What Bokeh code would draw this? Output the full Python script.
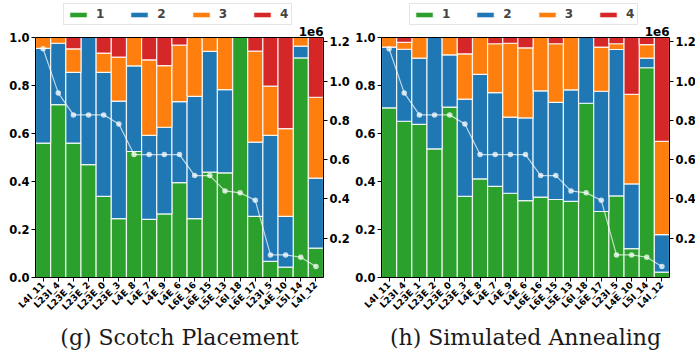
from bokeh.plotting import figure
from bokeh.layouts import row
from bokeh.models import (FactorRange, Range1d, LinearAxis, FixedTicker, CustomJSTickFormatter,
                          Legend, LegendItem, Label, ColumnDataSource, Span, Title)
from bokeh.embed import file_html
from bokeh.resources import INLINE
import math

layers = ["L4I_11", "L23I_4", "L23E_1", "L23E_2", "L23E_0", "L23E_3", "L4E_8", "L4E_7", "L4E_9",
          "L4E_6", "L6E_16", "L6E_15", "L5E_13", "L6I_18", "L6E_17", "L23I_5", "L4E_10", "L5I_14", "L4I_12"]

# line values (same in both panels)
traffic = [1165000, 940000, 828000, 828000, 828000, 782000, 626000, 626000, 626000, 626000,
           519000, 519000, 441000, 431000, 393000, 115000, 115000, 103000, 56000]

# (g) Scotch Placement shares
g_1 = [0.560, 0.720, 0.560, 0.470, 0.338, 0.245, 0.525, 0.242, 0.265, 0.395,
       0.245, 0.439, 0.436, 1.000, 0.255, 0.067, 0.043, 0.915, 0.122]
g_2 = [0.395, 0.256, 0.295, 0.530, 0.517, 0.490, 0.357, 0.350, 0.361, 0.338,
       0.510, 0.503, 0.347, 0.000, 0.309, 0.525, 0.212, 0.049, 0.292]
g_3 = [0.045, 0.024, 0.098, 0.000, 0.080, 0.183, 0.118, 0.315, 0.257, 0.235,
       0.245, 0.058, 0.217, 0.000, 0.379, 0.205, 0.365, 0.036, 0.337]
g_4 = [0.000, 0.000, 0.047, 0.000, 0.065, 0.082, 0.000, 0.093, 0.117, 0.032,
       0.000, 0.000, 0.000, 0.000, 0.057, 0.203, 0.380, 0.000, 0.249]

# (h) Simulated Annealing shares
h_1 = [0.707, 0.651, 0.638, 0.536, 0.710, 0.338, 0.411, 0.380, 0.351, 0.320,
       0.335, 0.325, 0.317, 0.726, 0.275, 0.340, 0.120, 0.874, 0.022]
h_2 = [0.253, 0.300, 0.276, 0.464, 0.218, 0.405, 0.435, 0.390, 0.317, 0.345,
       0.443, 0.405, 0.465, 0.274, 0.501, 0.610, 0.270, 0.040, 0.157]
h_3 = [0.040, 0.029, 0.086, 0.000, 0.072, 0.189, 0.154, 0.204, 0.308, 0.292,
       0.222, 0.244, 0.218, 0.000, 0.184, 0.024, 0.373, 0.056, 0.388]
h_4 = [0.000, 0.020, 0.000, 0.000, 0.000, 0.068, 0.000, 0.026, 0.024, 0.043,
       0.000, 0.026, 0.000, 0.000, 0.040, 0.026, 0.237, 0.030, 0.433]

series_names = ["1", "2", "3", "4"]
colors = ["#2ca02c", "#1f77b4", "#ff7f0e", "#d62728"]
left_ticks = [0, 0.2, 0.4, 0.6, 0.8, 1.0]
right_ticks = [200000, 400000, 600000, 800000, 1000000, 1200000]
subtitles = ["(g) Scotch Placement", "(h) Simulated Annealing"]

TICK_FONT = "DejaVu Sans"
SHARE_MAX = 1.0
TRAFFIC_MAX = 1222000
HEAD = 277.0 / 240.0   # frame extends above the bars to hold the legend


def make_panel(shares, subtitle, left_border, right_border):
    p = figure(x_range=FactorRange(*layers, range_padding=0),
               y_range=Range1d(0, SHARE_MAX * HEAD),
               frame_width=288, frame_height=277, output_backend="svg", toolbar_location=None,
               min_border_left=left_border, min_border_right=right_border, min_border_top=0,
               min_border_bottom=76)
    p.x_range.factor_padding = 0
    p.xgrid.visible = False
    p.ygrid.visible = False
    p.outline_line_color = None
    p.background_fill_color = "white"
    p.border_fill_color = "white"

    src = {"x": layers}
    for n, s in zip(series_names, shares):
        src[n] = s
    cds = ColumnDataSource(src)
    renderers = p.vbar_stack(series_names, x="x", width=1.0, source=cds, color=colors,
                             line_color="white", line_width=1.2, line_alpha=0.85)

    # top spine
    p.add_layout(Span(location=SHARE_MAX, dimension="width", line_color="black", line_width=1))

    # secondary axis
    p.extra_y_ranges = {"traffic": Range1d(0, TRAFFIC_MAX * HEAD)}
    ra = LinearAxis(y_range_name="traffic", ticker=FixedTicker(ticks=right_ticks),
                    formatter=CustomJSTickFormatter(code="return (tick/1e6).toFixed(1);"),
                    bounds=(0, TRAFFIC_MAX))
    p.add_layout(ra, "right")
    p.line(layers, traffic, y_range_name="traffic", line_color="white", line_alpha=0.7, line_width=1.2)
    p.scatter(layers, traffic, y_range_name="traffic", size=5.5, fill_color="white",
              fill_alpha=0.75, line_color=None)

    la = p.yaxis[0]
    la.ticker = FixedTicker(ticks=left_ticks)
    la.formatter = CustomJSTickFormatter(code="return tick.toFixed(1);")
    la.bounds = (0, SHARE_MAX)
    for ax in p.yaxis:
        ax.major_label_text_font = TICK_FONT
        ax.major_label_text_font_style = "bold"
        ax.major_label_text_font_size = "11.5px"
        ax.major_label_text_color = "black"
        ax.major_label_standoff = 2
        ax.major_tick_out = 4
        ax.major_tick_in = 0
        ax.minor_tick_out = 0
        ax.minor_tick_in = 0
        ax.axis_line_color = "black"
        ax.major_tick_line_color = "black"

    xa = p.xaxis[0]
    xa.major_label_orientation = math.pi / 4
    xa.major_label_text_font = TICK_FONT
    xa.major_label_text_font_style = "bold"
    xa.major_label_text_font_size = "9px"
    xa.major_label_text_color = "black"
    xa.major_label_standoff = 2
    xa.major_tick_out = 4
    xa.major_tick_in = 0
    xa.axis_line_color = "black"

    legend = Legend(items=[LegendItem(label=n, renderers=[r]) for n, r in zip(series_names, renderers)],
                    orientation="horizontal", location=(28, 252),
                    glyph_width=22, glyph_height=7, label_standoff=7, label_width=8,
                    label_height=12, spacing=24, padding=3, margin=0,
                    label_text_font=TICK_FONT, label_text_font_style="bold",
                    label_text_font_size="12px", border_line_color="#cccccc",
                    border_line_width=1, background_fill_color="white", background_fill_alpha=1)
    p.add_layout(legend)

    p.add_layout(Label(x=19.0, y=SHARE_MAX, y_offset=2, text="1e6", text_align="right",
                       text_baseline="bottom", text_font=TICK_FONT, text_font_style="bold",
                       text_font_size="12px", text_color="black"))
    p.add_layout(Title(text=subtitle, align="center", text_font="DejaVu Serif",
                       text_font_size="22px", text_font_style="normal", text_color="#1a1a1a",
                       standoff=9), "below")
    return p


p1 = make_panel([g_1, g_2, g_3, g_4], subtitles[0], 35, 29)
p2 = make_panel([h_1, h_2, h_3, h_4], subtitles[1], 27, 28)
p = row(p1, p2)

open("out.html", "w").write(file_html(p, INLINE))
